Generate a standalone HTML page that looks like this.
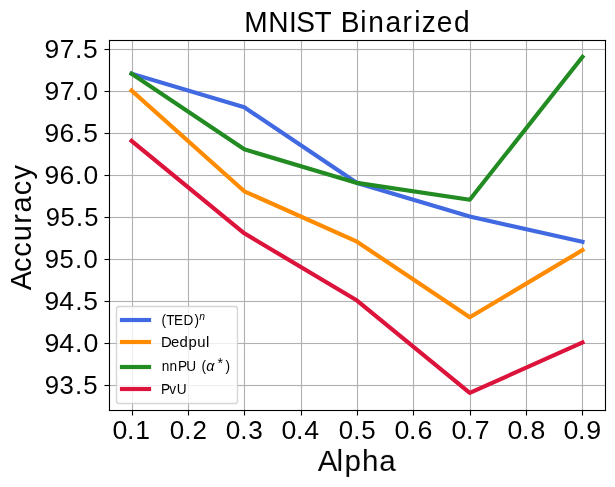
<!DOCTYPE html>
<html lang="en">
<head>
<meta charset="utf-8">
<title>MNIST Binarized</title>
<style>
html,body{margin:0;padding:0;background:#fff;}
body{width:615px;height:487px;overflow:hidden;font-family:"Liberation Sans",sans-serif;}
svg{display:block;will-change:transform;}
text{font-family:"Liberation Sans",sans-serif;fill:#000;}
.grid rect{fill:#b0b0b0;}
.ticks rect,.spines rect{fill:#000;}
.series polyline{fill:none;stroke-width:4.167;stroke-linejoin:round;stroke-linecap:square;}
</style>
</head>
<body>
<svg width="615" height="487" viewBox="0 0 615 487">
<rect x="0" y="0" width="615" height="487" fill="#ffffff"/>
<defs><clipPath id="axclip"><rect x="109.5" y="40.5" width="496" height="370"/></clipPath></defs>
<g class="grid">
<rect x="131.945" y="41" width="1.11" height="369.5"/>
<rect x="187.945" y="41" width="1.11" height="369.5"/>
<rect x="243.945" y="41" width="1.11" height="369.5"/>
<rect x="300.945" y="41" width="1.11" height="369.5"/>
<rect x="356.945" y="41" width="1.11" height="369.5"/>
<rect x="412.945" y="41" width="1.11" height="369.5"/>
<rect x="469.945" y="41" width="1.11" height="369.5"/>
<rect x="525.945" y="41" width="1.11" height="369.5"/>
<rect x="581.945" y="41" width="1.11" height="369.5"/>
<rect x="110" y="384.945" width="495.5" height="1.11"/>
<rect x="110" y="342.945" width="495.5" height="1.11"/>
<rect x="110" y="300.945" width="495.5" height="1.11"/>
<rect x="110" y="258.945" width="495.5" height="1.11"/>
<rect x="110" y="216.945" width="495.5" height="1.11"/>
<rect x="110" y="174.945" width="495.5" height="1.11"/>
<rect x="110" y="132.945" width="495.5" height="1.11"/>
<rect x="110" y="90.945" width="495.5" height="1.11"/>
<rect x="110" y="48.945" width="495.5" height="1.11"/>
</g>
<g class="series" clip-path="url(#axclip)">
<polyline stroke="#4169e1" points="131.57,73.72 244.30,107.32 357.03,182.92 469.76,216.52 582.48,241.72"/>
<polyline stroke="#ff8c00" points="131.57,90.52 244.30,191.32 357.03,241.72 469.76,317.32 582.48,250.12"/>
<polyline stroke="#228b22" points="131.57,73.72 244.30,149.32 357.03,182.92 469.76,199.72 582.48,56.92"/>
<polyline stroke="#dc143c" points="131.57,140.92 244.30,233.32 357.03,300.52 469.76,392.92 582.48,342.52"/>
</g>
<g class="ticks">
<rect x="131.945" y="410.5" width="1.11" height="5"/>
<rect x="187.945" y="410.5" width="1.11" height="5"/>
<rect x="243.945" y="410.5" width="1.11" height="5"/>
<rect x="300.945" y="410.5" width="1.11" height="5"/>
<rect x="356.945" y="410.5" width="1.11" height="5"/>
<rect x="412.945" y="410.5" width="1.11" height="5"/>
<rect x="469.945" y="410.5" width="1.11" height="5"/>
<rect x="525.945" y="410.5" width="1.11" height="5"/>
<rect x="581.945" y="410.5" width="1.11" height="5"/>
<rect x="104.5" y="384.945" width="5" height="1.11"/>
<rect x="104.5" y="342.945" width="5" height="1.11"/>
<rect x="104.5" y="300.945" width="5" height="1.11"/>
<rect x="104.5" y="258.945" width="5" height="1.11"/>
<rect x="104.5" y="216.945" width="5" height="1.11"/>
<rect x="104.5" y="174.945" width="5" height="1.11"/>
<rect x="104.5" y="132.945" width="5" height="1.11"/>
<rect x="104.5" y="90.945" width="5" height="1.11"/>
<rect x="104.5" y="48.945" width="5" height="1.11"/>
</g>
<g class="spines">
<rect x="108.945" y="39.945" width="1.11" height="371.11"/>
<rect x="604.945" y="39.945" width="1.11" height="371.11"/>
<rect x="108.945" y="39.945" width="497.11" height="1.11"/>
<rect x="108.945" y="409.945" width="497.11" height="1.11"/>
</g>
<g class="legend">
<rect x="116.5" y="306.5" width="121" height="97" rx="2.78" ry="2.78" fill="#ffffff" fill-opacity="0.8" stroke="#cccccc" stroke-opacity="0.8" stroke-width="1.39"/>
<rect x="119.9" y="317.917" width="31.2" height="4.167" fill="#4169e1"/>
<rect x="119.9" y="339.917" width="31.2" height="4.167" fill="#ff8c00"/>
<rect x="119.9" y="364.917" width="31.2" height="4.167" fill="#228b22"/>
<rect x="119.9" y="386.917" width="31.2" height="4.167" fill="#dc143c"/>
</g>
<g class="labels" opacity="0.999">
<text transform="translate(0 31.70) scale(1.0121 1.0559)" font-size="27.78" x="241.30 265.14 285.47 292.66 310.70 324.73 336.77 356.01 363.87 380.80 397.60 409.33 416.62 431.46 448.49" y="0">MNIST Binarized</text>
<text transform="translate(0 470.83) scale(1.0600 1.0835)" font-size="27.78" x="299.79 317.47 325.07 341.54 357.78" y="0">Alpha</text>
<text transform="translate(31.28 0) rotate(-90) scale(1.0412 1.0489)" font-size="27.78" x="-278.84 -261.17 -246.52 -231.63 -214.79 -204.10 -187.44 -172.50" y="0">Accuracy</text>
<text transform="translate(0 438.75) scale(1.0660 1.0551)" font-size="25" x="105.59 119.14 126.84" y="0">0.1</text>
<text transform="translate(0 438.75) scale(1.0383 1.0654)" font-size="25" x="163.52 177.56 185.29" y="0">0.2</text>
<text transform="translate(0 438.75) scale(1.0478 1.0441)" font-size="25" x="215.50 229.41 236.84" y="0">0.3</text>
<text transform="translate(0 438.75) scale(1.0677 1.0429)" font-size="25" x="263.57 277.29 285.01" y="0">0.4</text>
<text transform="translate(0 438.75) scale(1.0334 1.0656)" font-size="25" x="327.82 341.88 349.51" y="0">0.5</text>
<text transform="translate(0 438.75) scale(1.0715 1.0447)" font-size="25" x="368.23 381.71 389.61" y="0">0.6</text>
<text transform="translate(0 438.75) scale(1.0642 1.0545)" font-size="25" x="424.27 437.98 446.15" y="0">0.7</text>
<text transform="translate(0 438.75) scale(1.0672 1.0652)" font-size="25" x="475.57 489.06 497.22" y="0">0.8</text>
<text transform="translate(0 438.75) scale(1.0725 1.0345)" font-size="25" x="525.31 538.98 546.56" y="0">0.9</text>
<text transform="translate(0 393.75) scale(1.0329 1.0239)" font-size="25" x="43.40 57.65 72.68 80.56" y="0">93.5</text>
<text transform="translate(0 351.75) scale(1.0700 0.9938)" font-size="25" x="41.54 55.45 70.04 77.94" y="0">94.0</text>
<text transform="translate(0 309.75) scale(1.0577 1.0021)" font-size="25" x="42.18 56.12 71.05 78.70" y="0">94.5</text>
<text transform="translate(0 267.75) scale(1.0255 1.0137)" font-size="25" x="43.63 58.04 73.04 81.48" y="0">95.0</text>
<text transform="translate(0 225.75) scale(1.0232 1.0430)" font-size="25" x="44.74 59.06 74.26 82.25" y="0">95.5</text>
<text transform="translate(0 184.00) scale(1.0588 1.0445)" font-size="25" x="42.04 56.23 70.75 78.82" y="0">96.0</text>
<text transform="translate(0 141.75) scale(1.0568 1.0029)" font-size="25" x="42.15 56.37 71.20 78.71" y="0">96.5</text>
<text transform="translate(0 99.75) scale(1.0603 1.0344)" font-size="25" x="41.87 56.40 70.72 78.48" y="0">97.0</text>
<text transform="translate(0 57.75) scale(1.0578 1.0137)" font-size="25" x="42.12 56.45 70.96 78.41" y="0">97.5</text>
<text transform="translate(0 324.63) scale(0.9771 1.0357)" font-size="13.89"><tspan x="165.28 170.22 178.01 187.81 199.18" y="0">(TED)</tspan><tspan x="203.96" y="-4.11" font-size="10.59" font-style="italic">n</tspan></text>
<text transform="translate(0 346.54) scale(1.0725 1.0471)" font-size="13.89" x="150.11 159.39 167.41 175.74 183.81 192.09" y="0">Dedpul</text>
<text transform="translate(0 370.63) scale(0.9838 1.0462)" font-size="13.89"><tspan x="164.35 172.27 180.95 189.25 196.64 204.79" y="0">nnPU (</tspan><tspan x="209.71" y="0.71" font-size="14.59" font-style="italic">α</tspan><tspan x="221.00" y="-2.19" font-size="14.4">*</tspan><tspan x="229.33" y="0">)</tspan></text>
<text transform="translate(0 393.86) scale(0.9826 1.0773)" font-size="13.89" x="163.90 172.22 179.81" y="0">PvU</text>
</g>
</svg>
</body>
</html>
